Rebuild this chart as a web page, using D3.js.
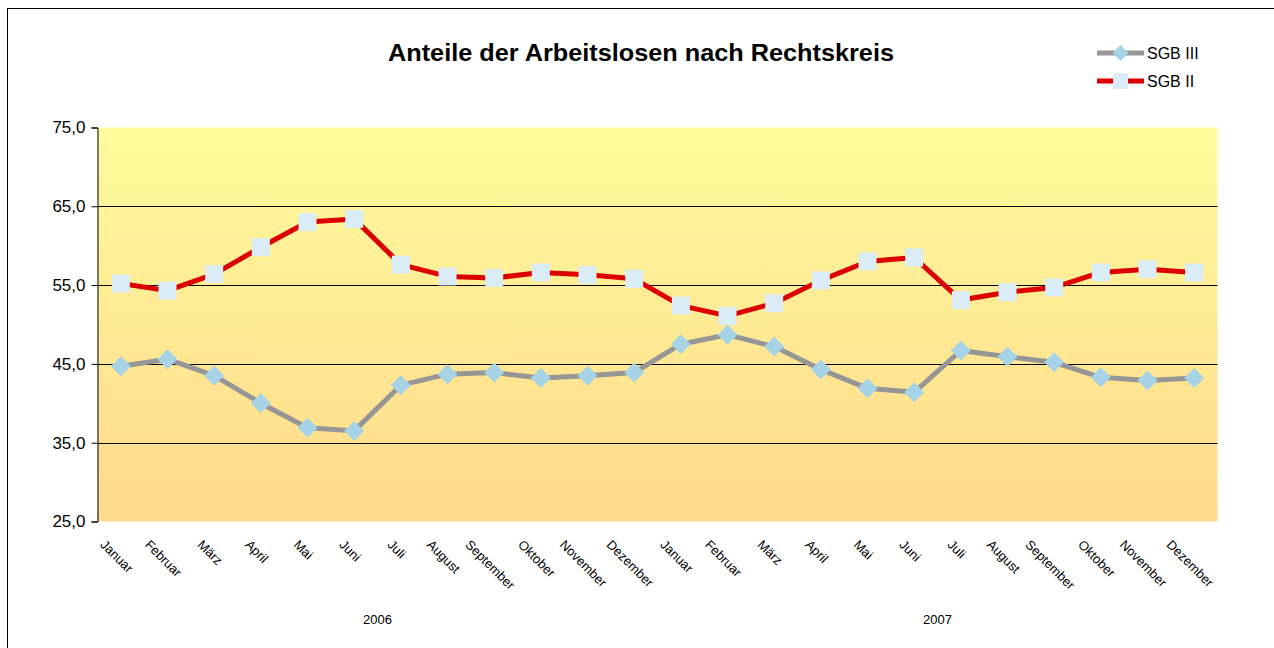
<!DOCTYPE html>
<html>
<head>
<meta charset="utf-8">
<script src="https://cdn.jsdelivr.net/npm/d3@7"></script>
<style>
  html, body { margin: 0; padding: 0; background: #fff; }
  svg { display: block; font-family: "Liberation Sans", Arial, sans-serif; }
</style>
</head>
<body>
<div id="chart"></div>
<script>
'use strict'

// month names, two years in a row
let months = ['Januar','Februar','März','April','Mai','Juni','Juli','August','September','Oktober','November','Dezember'];
let years = ['2006','2007'];

// shares in percent
let sgb3 = [44.7,45.6,43.5,40.0,36.9,36.5,42.3,43.7,43.9,43.2,43.5,43.9,
            47.5,48.7,47.2,44.3,41.9,41.4,46.7,45.9,45.2,43.3,42.9,43.2];
let sgb2 = [55.2,54.3,56.4,59.8,63.0,63.4,57.6,56.1,55.9,56.6,56.3,55.8,
            52.4,51.1,52.7,55.6,58.0,58.5,53.1,54.1,54.7,56.6,57.0,56.6];

let yTicks = [25,35,45,55,65,75];

let width = 1274, height = 648;
let plot = {left: 97.5, right: 1217.5, top: 127.5, bottom: 521.5};

let cats = [];
years.forEach(function(y) { months.forEach(function(m) { cats.push(y + '-' + m); }); });

let svg = d3.select('#chart').append('svg')
    .attr('width', width)
    .attr('height', height);

// frame
svg.append('rect')
    .attr('x', 7.5).attr('y', 8.5)
    .attr('width', width + 20).attr('height', height + 20)
    .attr('fill', 'none').attr('stroke', '#000').attr('stroke-width', 1);

let defs = svg.append('defs');
let grad = defs.append('linearGradient')
    .attr('id', 'bg').attr('x1', 0).attr('y1', 0).attr('x2', 0).attr('y2', 1);
grad.append('stop').attr('offset', '0%').attr('stop-color', '#fffb9c');
grad.append('stop').attr('offset', '100%').attr('stop-color', '#ffd98c');

let x = d3.scaleBand().domain(cats).range([plot.left, plot.right]);
let y = d3.scaleLinear().domain([25, 75]).range([plot.bottom, plot.top]);

svg.append('rect')
    .attr('x', plot.left).attr('y', plot.top)
    .attr('width', plot.right - plot.left).attr('height', plot.bottom - plot.top)
    .attr('fill', 'url(#bg)');

// gridlines
svg.append('g').selectAll('line')
    .data(yTicks.filter(function(d) { return d > 25 && d < 75; }))
    .enter().append('line')
    .attr('x1', plot.left).attr('x2', plot.right)
    .attr('y1', function(d) { return Math.round(y(d)) + 0.5; })
    .attr('y2', function(d) { return Math.round(y(d)) + 0.5; })
    .attr('stroke', '#000').attr('stroke-width', 1);

// y axis
let yAxis = svg.append('g')
    .attr('transform', 'translate(' + plot.left + ',0)')
    .call(d3.axisLeft(y).tickValues(yTicks).tickSize(6).tickPadding(6)
        .tickFormat(function(d) { return d3.format('.1f')(d).replace('.', ','); }));
yAxis.select('.domain').attr('stroke', '#000');
yAxis.selectAll('text').attr('font-size', 17).attr('fill', '#000')
    .attr('font-family', '"Liberation Sans", Arial, sans-serif');

// category labels, rotated
let lblTop = 538;
let catLbl = svg.append('g').selectAll('text')
    .data(cats)
    .enter().append('text')
    .attr('font-size', 13)
    .attr('text-anchor', 'middle')
    .attr('dominant-baseline', 'central')
    .text(function(d) { return d.split('-')[1]; });
catLbl.each(function(d) {
  let w = this.getComputedTextLength();
  let cx = x(d) + x.bandwidth() / 2 - 4;
  let cy = lblTop + 0.7071 * (w + 12) / 2;
  d3.select(this).attr('transform', 'translate(' + cx + ',' + cy + ') rotate(45)');
});

// year labels
svg.append('g').selectAll('text')
    .data(years)
    .enter().append('text')
    .attr('x', function(d) {
      return (x(d + '-' + months[0]) + x(d + '-' + months[11]) + x.bandwidth()) / 2;
    })
    .attr('y', 619)
    .attr('font-size', 13)
    .attr('text-anchor', 'middle')
    .attr('dominant-baseline', 'central')
    .text(function(d) { return d; });

let line = d3.line()
    .x(function(d, i) { return x(cats[i]) + x.bandwidth() / 2; })
    .y(function(d) { return y(d); });

// SGB II
svg.append('path').datum(sgb2)
    .attr('d', line)
    .attr('fill', 'none').attr('stroke', '#dd0000').attr('stroke-width', 5)
    .attr('stroke-linejoin', 'round');
svg.append('g').selectAll('rect')
    .data(sgb2)
    .enter().append('rect')
    .attr('x', function(d, i) { return x(cats[i]) + x.bandwidth() / 2 - 9; })
    .attr('y', function(d) { return y(d) - 9; })
    .attr('width', 18).attr('height', 18)
    .attr('fill', '#daecf5');

// SGB III
svg.append('path').datum(sgb3)
    .attr('d', line)
    .attr('fill', 'none').attr('stroke', '#969696').attr('stroke-width', 5)
    .attr('stroke-linejoin', 'round');
svg.append('g').selectAll('path')
    .data(sgb3)
    .enter().append('path')
    .attr('d', 'M0,-10L10,0L0,10L-10,0Z')
    .attr('transform', function(d, i) {
      return 'translate(' + (x(cats[i]) + x.bandwidth() / 2) + ',' + y(d) + ')';
    })
    .attr('fill', '#a6d3e6');

// title
svg.append('text')
    .attr('x', 641).attr('y', 53)
    .attr('text-anchor', 'middle')
    .attr('dominant-baseline', 'central')
    .attr('font-size', 23).attr('font-weight', 'bold')
    .attr('textLength', 506).attr('lengthAdjust', 'spacingAndGlyphs')
    .text('Anteile der Arbeitslosen nach Rechtskreis');

// legend
let legend = [
  {name: 'SGB III', color: '#969696', mark: '#a6d3e6', shape: 'diamond', y: 53},
  {name: 'SGB II', color: '#dd0000', mark: '#daecf5', shape: 'square', y: 81}
];
let lg = svg.append('g').selectAll('g')
    .data(legend)
    .enter().append('g')
    .attr('transform', function(d) { return 'translate(1097,' + d.y + ')'; });
lg.append('line')
    .attr('x1', 0).attr('x2', 47).attr('y1', 0).attr('y2', 0)
    .attr('stroke', function(d) { return d.color; }).attr('stroke-width', 5);
lg.append('path')
    .attr('d', function(d) {
      return d.shape === 'diamond' ? 'M23.5,-8L31.5,0L23.5,8L15.5,0Z' : 'M16,-8H31V8H16Z';
    })
    .attr('fill', function(d) { return d.mark; });
lg.append('text')
    .attr('x', 50).attr('y', 0)
    .attr('dominant-baseline', 'central')
    .attr('font-size', 16)
    .text(function(d) { return d.name; });
</script>
</body>
</html>
